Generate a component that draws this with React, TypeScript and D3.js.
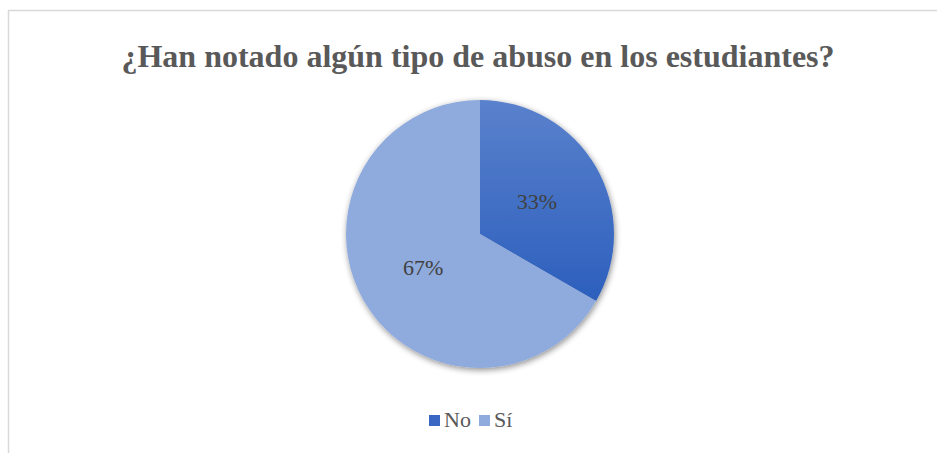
import React from "react";
import * as d3 from "d3";

const categories = ["No", "Sí"];
const values = [1, 2];
const labels = ["33%", "67%"];
const title = "¿Han notado algún tipo de abuso en los estudiantes?";

const W = 937;
const H = 453;
const cx = 480;
const cy = 234;
const R = 134;
const SERIF = "Liberation Serif, Times New Roman, DejaVu Serif, serif";

export default function App() {
  const pie = d3.pie<number>().sort(null).value((d) => d)(values);
  const arc = d3.arc<d3.PieArcDatum<number>>().innerRadius(0).outerRadius(R);
  const labelArc = d3.arc<d3.PieArcDatum<number>>().innerRadius(R * 0.49).outerRadius(R * 0.49);
  const fills = ["url(#gNo)", "#8faadc"];
  const legendColors = ["#3a67c4", "#8faadc"];
  const legendX = [429, 479];
  return (
    <svg width={W} height={H} style={{ position: "absolute", left: 0, top: 0, fontFamily: SERIF }}>
      <defs>
        <linearGradient id="gNo" x1="0" y1="0" x2="0" y2="1">
          <stop offset="0" stopColor="#5a81cc" />
          <stop offset="1" stopColor="#2c5fbd" />
        </linearGradient>
        <filter id="sh" x="-20%" y="-20%" width="140%" height="140%">
          <feGaussianBlur in="SourceAlpha" stdDeviation="3" />
          <feOffset dx="1" dy="2" result="b" />
          <feComponentTransfer>
            <feFuncA type="linear" slope="0.45" />
          </feComponentTransfer>
          <feMerge>
            <feMergeNode />
            <feMergeNode in="SourceGraphic" />
          </feMerge>
        </filter>
      </defs>
      <rect x={0} y={0} width={W} height={H} fill="#fff" />
      <path d={`M8.5,${H} V10.5 H${W}`} fill="none" stroke="#d9d9d9" strokeWidth={1.5} />
      <text
        x={478}
        y={67}
        textAnchor="middle"
        style={{ fontFamily: SERIF, fontWeight: "bold", fontSize: 32 }}
        fill="#595959"
      >
        {title}
      </text>
      <g transform={`translate(${cx},${cy})`}>
        <g filter="url(#sh)">
          {pie.map((p, i) => (
            <path key={categories[i]} d={arc(p) || ""} fill={fills[i]} />
          ))}
        </g>
        {pie.map((p, i) => {
          const [x, y] = labelArc.centroid(p);
          return (
            <text
              key={"l" + i}
              x={x}
              y={y}
              dy="0.35em"
              textAnchor="middle"
              style={{ fontFamily: SERIF, fontSize: 22 }}
              fill="#404040"
            >
              {labels[i]}
            </text>
          );
        })}
      </g>
      <g style={{ fontFamily: SERIF, fontSize: 22 }} fill="#595959">
        {categories.map((c, i) => {
          const x0 = legendX[i];
          return (
            <g key={c}>
              <rect x={x0} y={415} width={11} height={11} fill={legendColors[i]} />
              <text x={x0 + 15} y={427}>
                {c}
              </text>
            </g>
          );
        })}
      </g>
    </svg>
  );
}
